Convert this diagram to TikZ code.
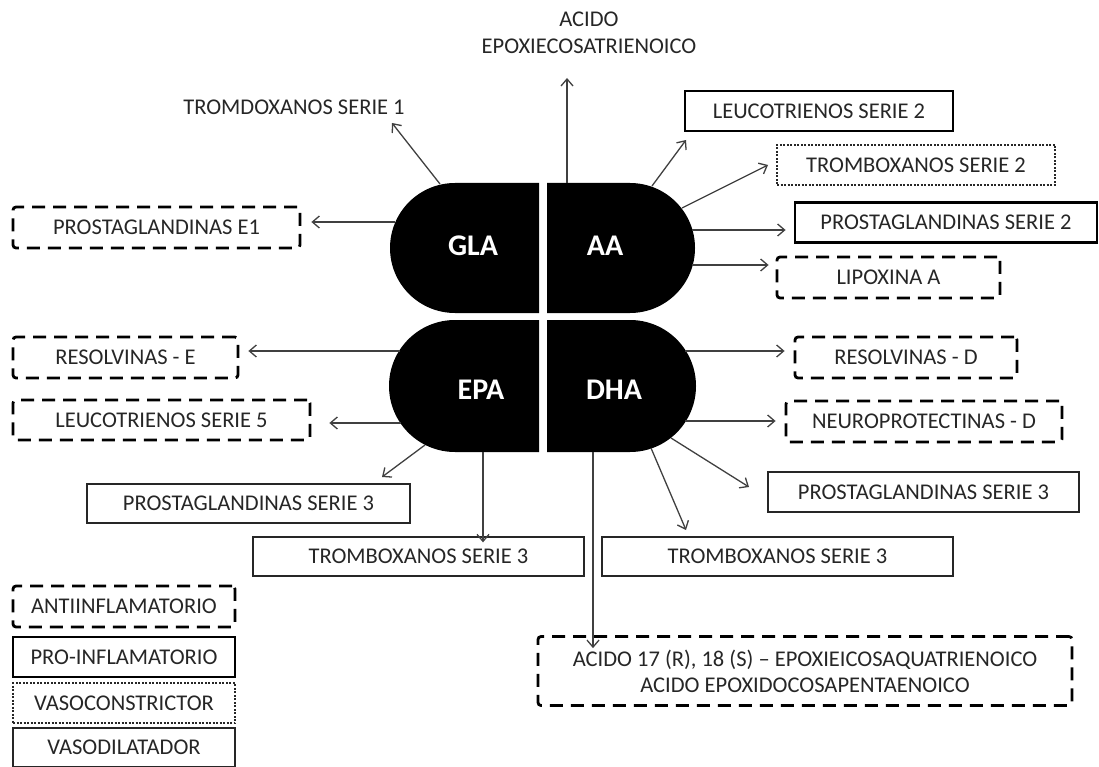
\documentclass[tikz,border=0pt]{standalone}
\usepackage{fontspec}
\setmainfont{Carlito}
\usetikzlibrary{arrows.meta,calc}
\definecolor{ink}{HTML}{262626}
\definecolor{wire}{HTML}{404040}
\begin{document}
\begin{tikzpicture}[x=1pt,y=-1pt,
  lbl/.style={font=\fontsize{22.5}{27}\selectfont, text=ink, align=center, inner sep=0pt},
  boxbase/.style={lbl, minimum height=40pt},
  antibox/.style={boxbase, draw=black, line width=2.8pt, dash pattern=on 13pt off 8pt, rounded corners=3pt},
  probox/.style={boxbase, draw=black, line width=2.8pt},
  vconbox/.style={boxbase, draw=black!85, line width=1.2pt, dash pattern=on 2pt off 1.5pt},
  vdilbox/.style={boxbase, draw=black!85, line width=1.3pt},
  arr/.style={draw=wire, line width=1.3pt, -{Straight Barb[length=7pt,width=12pt,line width=1.3pt]}},
  acidshape/.style={fill=black},
  acidname/.style={font=\fontsize{30}{30}\selectfont\bfseries, text=white, inner sep=0pt},
]
\useasboundingbox (0,0) rectangle (1099,767);

% the four fatty acids
\fill[acidshape] (539,183) -- (455,183) arc[start angle=90,end angle=270,radius=65pt] -- (539,313) -- cycle;
\fill[acidshape] (547,183) -- (630,183) arc[start angle=90,end angle=-90,radius=65pt] -- (547,313) -- cycle;
\fill[acidshape] (539,320) -- (455,320) arc[start angle=90,end angle=270,radius=66pt] -- (539,452) -- cycle;
\fill[acidshape] (547,320) -- (630,320) arc[start angle=90,end angle=-90,radius=66pt] -- (547,452) -- cycle;
\node[acidname] (gla) at (473,246) {GLA};
\node[acidname] (aa)  at (605,246) {AA};
\node[acidname] (epa) at (481,390) {EPA};
\node[acidname] (dha) at (614,390) {DHA};

% points where the arrows leave the shapes
\coordinate (gla-nw) at (440,184);
\coordinate (gla-w)  at (395,222);
\coordinate (top-c)  at (567,183);
\coordinate (aa-n)   at (652,186);
\coordinate (aa-ne)  at (682,208);
\coordinate (aa-e1)  at (692,230);
\coordinate (aa-e2)  at (692,265);
\coordinate (epa-w1) at (400,351);
\coordinate (epa-w2) at (401,423);
\coordinate (epa-sw) at (425,445);
\coordinate (epa-s)  at (483,452);
\coordinate (dha-e1) at (685,351);
\coordinate (dha-e2) at (685,421);
\coordinate (dha-se) at (671,438);
\coordinate (dha-s1) at (651,448);
\coordinate (dha-s2) at (593,452);

% metabolites
\node[lbl] (tdx1) at (294,107) {TROMDOXANOS SERIE 1};
\node[lbl] (eet) at (589,33) {ACIDO\\EPOXIECOSATRIENOICO};
\node[probox,  minimum width=268pt] (lt2)  at (819,111)   {LEUCOTRIENOS SERIE 2};
\node[vconbox, minimum width=278pt] (txb2) at (916,165)   {TROMBOXANOS SERIE 2};
\node[probox,  minimum width=302pt] (pg2)  at (946,222.5) {PROSTAGLANDINAS SERIE 2};
\node[antibox, minimum width=223pt, minimum height=41pt] (lxa) at (888.5,277.5) {LIPOXINA A};
\node[antibox, minimum width=287pt, minimum height=41pt] (pge1) at (156.5,227.5) {PROSTAGLANDINAS E1};
\node[antibox, minimum width=225pt, minimum height=41pt] (rse) at (125.5,357.5) {RESOLVINAS - E};
\node[antibox, minimum width=297pt] (lt5) at (161.5,420) {LEUCOTRIENOS SERIE 5};
\node[vdilbox, minimum width=323pt, minimum height=39pt] (pg3l) at (248.5,503.5) {PROSTAGLANDINAS SERIE 3};
\node[vdilbox, minimum width=331pt, minimum height=39pt] (txb3l) at (418.5,556.5) {TROMBOXANOS SERIE 3};
\node[antibox, minimum width=222pt, minimum height=41pt] (rsd) at (906,357.5) {RESOLVINAS - D};
\node[antibox, minimum width=276pt, minimum height=41pt] (npd) at (924,421.5) {NEUROPROTECTINAS - D};
\node[vdilbox, minimum width=311pt] (pg3r) at (923.5,492) {PROSTAGLANDINAS SERIE 3};
\node[vdilbox, minimum width=351pt, minimum height=39pt] (txb3r) at (777.5,556.5) {TROMBOXANOS SERIE 3};
\node[antibox, font=\fontsize{22.5}{26}\selectfont, minimum width=534pt, minimum height=69pt] (epox) at (805,671)
  {ACIDO 17 (R), 18 (S) -- EPOXIEICOSAQUATRIENOICO\\ACIDO EPOXIDOCOSAPENTAENOICO};

% arrow tips that stop short of their targets
\coordinate (t-tdx1)  at (392,123);
\coordinate (t-eet)   at (567,78);
\coordinate (t-lt2)   at (686,140);
\coordinate (t-txb2)  at (768,165);
\coordinate (t-pg3l)  at (382,477);
\coordinate (t-pg3r)  at (749,487);
\coordinate (t-txb3r) at (686,530);

% arrows
\draw[arr] (gla-nw) -- (t-tdx1);
\draw[arr] (top-c) -- (t-eet);
\draw[arr] (gla-w) -- ([xshift=10pt]pge1.east |- gla-w);
\draw[arr] (aa-n) -- (t-lt2);
\draw[arr] (aa-ne) -- (t-txb2);
\draw[arr] (aa-e1) -- ([xshift=-8pt]pg2.west |- aa-e1);
\draw[arr] (aa-e2) -- ([xshift=-7pt]lxa.west |- aa-e2);
\draw[arr] (epa-w1) -- ([xshift=9pt]rse.east |- epa-w1);
\draw[arr] (epa-w2) -- ([xshift=18pt]lt5.east |- epa-w2);
\draw[arr] (epa-sw) -- (t-pg3l);
\draw[arr] (epa-s) -- ([yshift=-6pt]epa-s |- txb3l.north);
\draw[arr] (dha-e1) -- ([xshift=-9pt]rsd.west |- dha-e1);
\draw[arr] (dha-e2) -- ([xshift=-9pt]npd.west |- dha-e2);
\draw[arr] (dha-se) -- (t-pg3r);
\draw[arr] (dha-s1) -- (t-txb3r);
\draw[arr] (dha-s2) -- ([yshift=-13pt]dha-s2 |- epox.north);

% legend
\node[antibox, minimum width=222pt, minimum height=41pt] (lg-anti) at (124,606.5) {ANTIINFLAMATORIO};
\node[probox,  minimum width=222pt] (lg-pro)  at (124,657)   {PRO-INFLAMATORIO};
\node[vconbox, minimum width=222pt] (lg-vcon) at (124,703)   {VASOCONSTRICTOR};
\node[vdilbox, minimum width=222pt, minimum height=39pt] (lg-vdil) at (124,747.5) {VASODILATADOR};
\end{tikzpicture}
\end{document}
